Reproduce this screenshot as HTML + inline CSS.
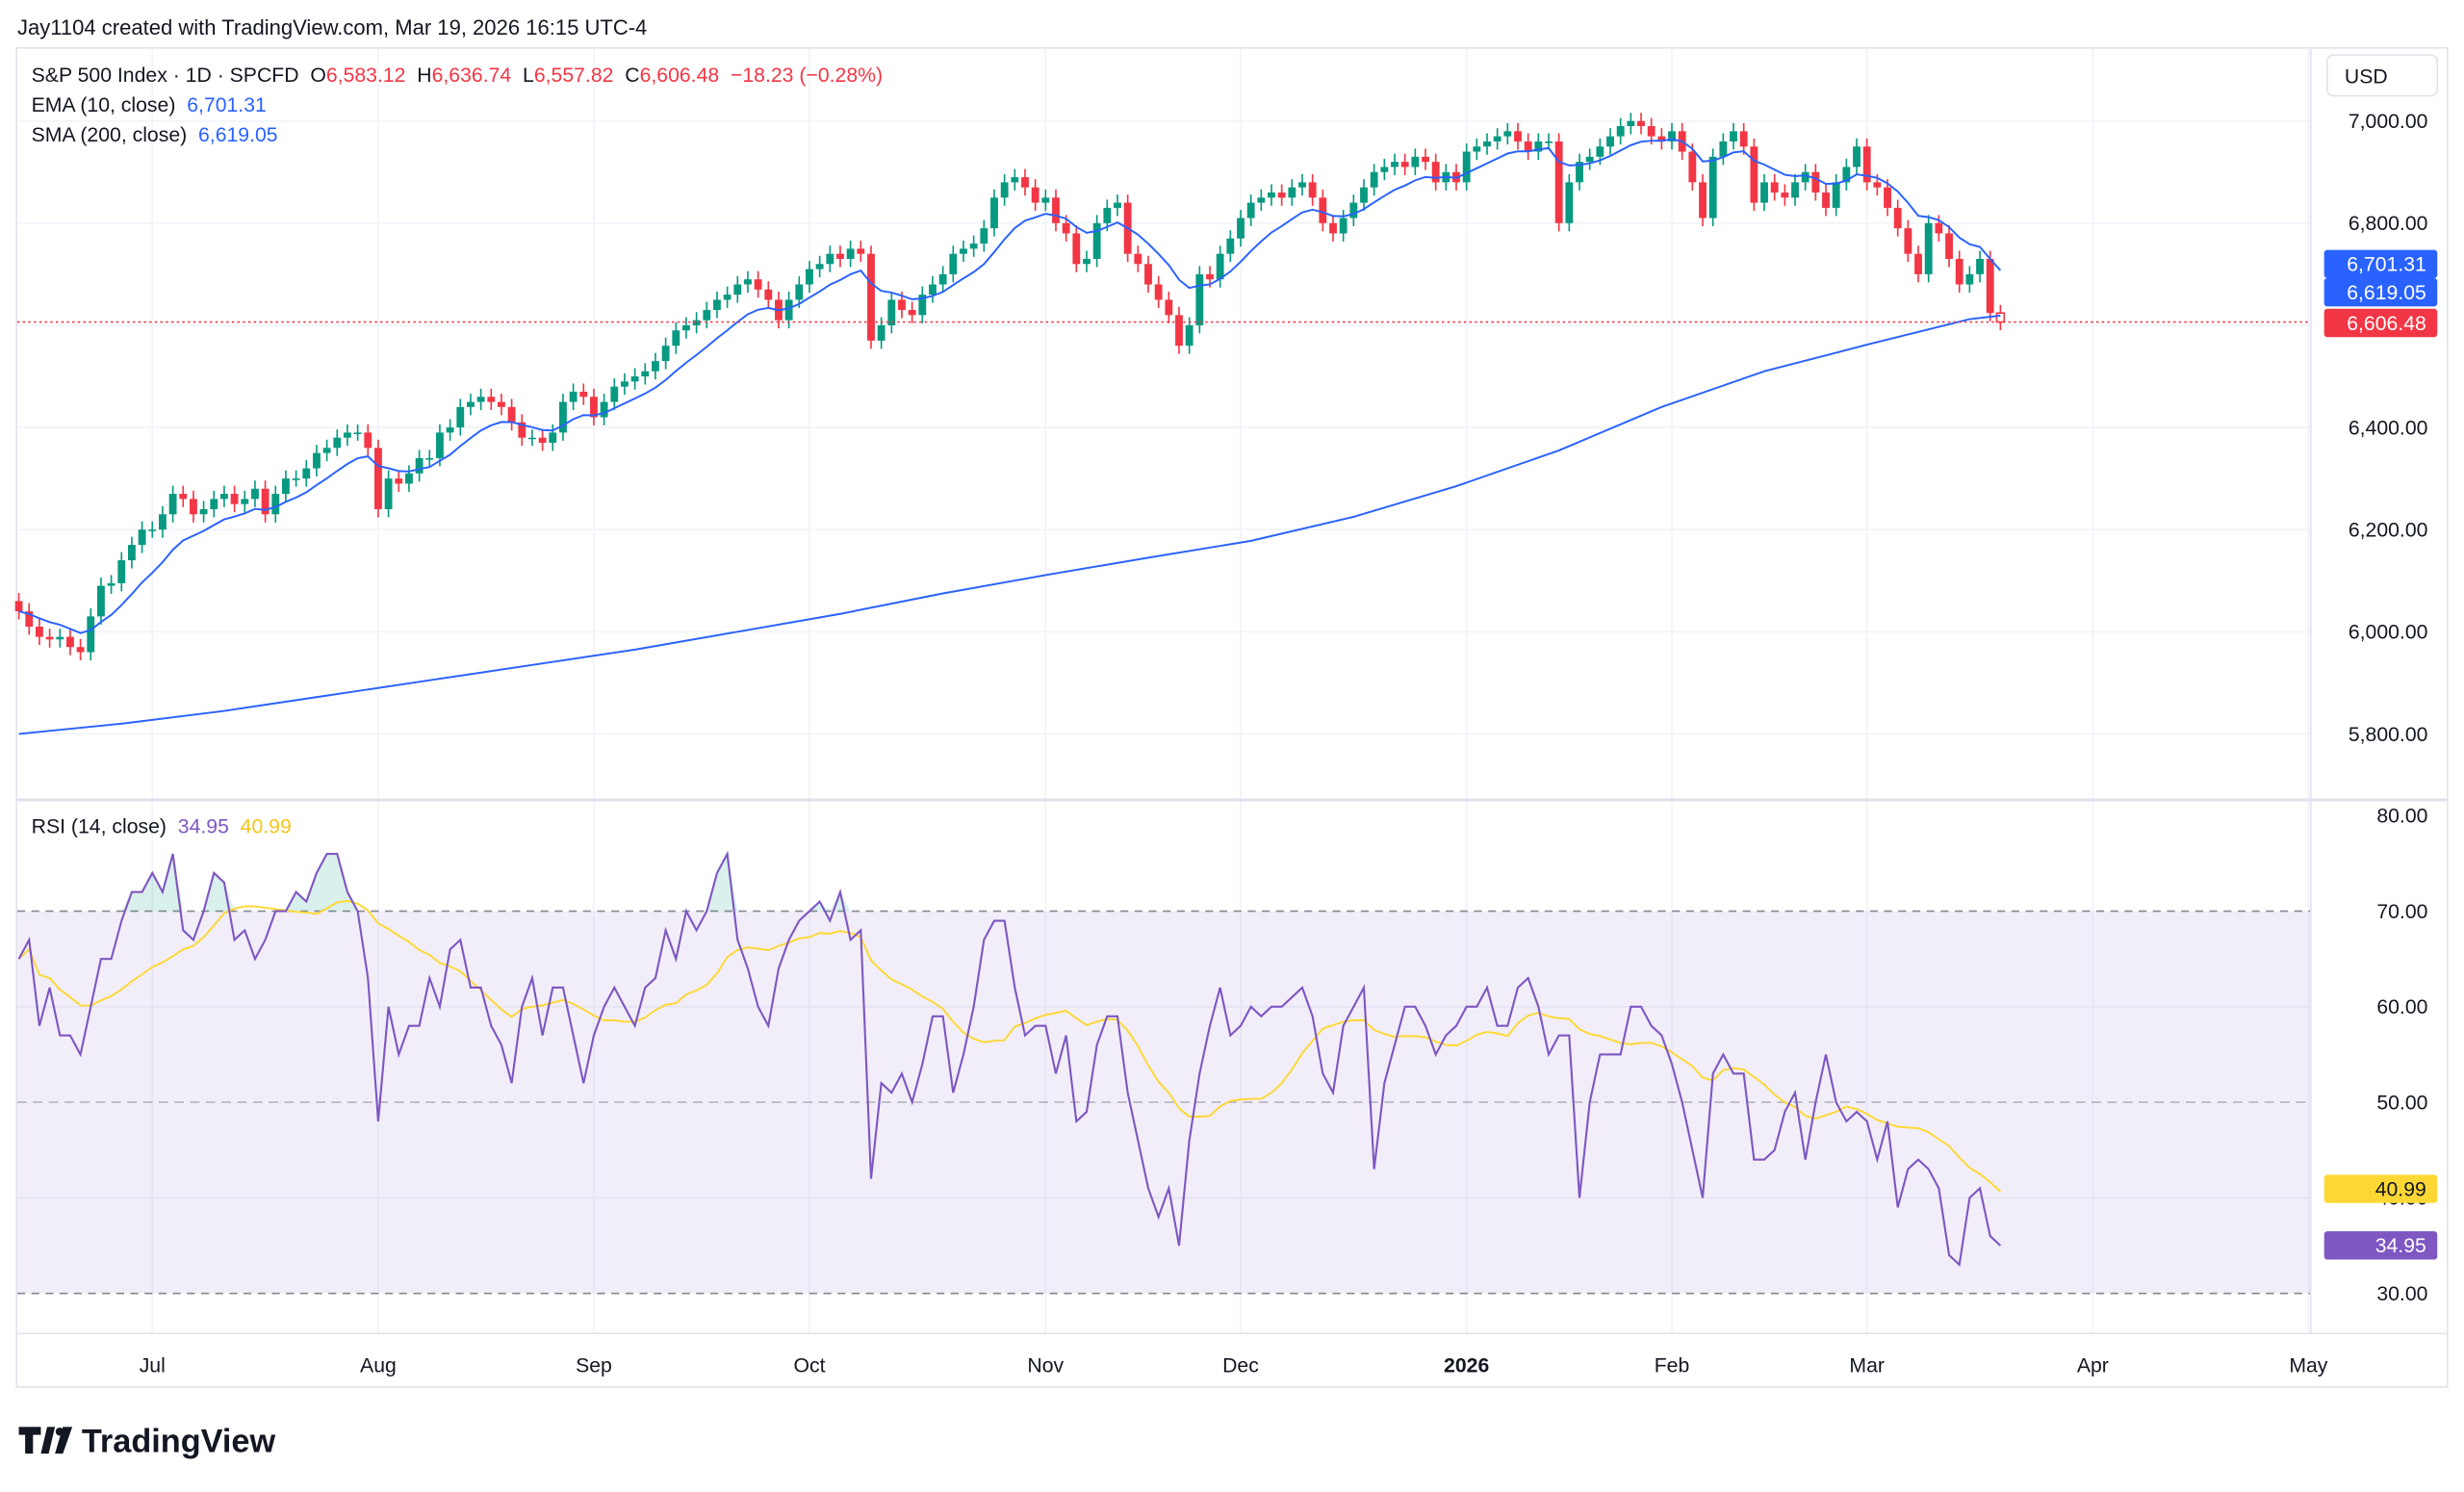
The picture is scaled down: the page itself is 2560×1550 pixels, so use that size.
<!DOCTYPE html>
<html><head><meta charset="utf-8">
<style>
html,body{margin:0;padding:0;background:#fff;width:2560px;height:1550px;overflow:hidden}
svg{display:block;font-family:"Liberation Sans",Arial,sans-serif}
</style></head>
<body>
<svg id="chart" width="2560" height="1550" viewBox="0 0 1568 949.4" preserveAspectRatio="none" xmlns="http://www.w3.org/2000/svg">
<rect x="0" y="0" width="1568" height="950" fill="#fff"/>
<text x="11" y="22" font-size="13.5" fill="#131722">Jay1104 created with TradingView.com, Mar 19, 2026 16:15 UTC-4</text>
<rect x="10.5" y="30.5" width="1547" height="852" fill="none" stroke="#e0e3eb"/>
<g id="grid"></g>
<g id="rsi-layer"></g>
<g id="price-layer"></g>
<g id="axes"></g>
<g font-size="13" fill="#131722">
<text x="20" y="52">S&amp;P 500 Index · 1D · SPCFD&#160;&#160;<tspan fill="#131722">O</tspan><tspan fill="#f23645">6,583.12</tspan>&#160;&#160;<tspan fill="#131722">H</tspan><tspan fill="#f23645">6,636.74</tspan>&#160;&#160;<tspan fill="#131722">L</tspan><tspan fill="#f23645">6,557.82</tspan>&#160;&#160;<tspan fill="#131722">C</tspan><tspan fill="#f23645">6,606.48</tspan>&#160;&#160;<tspan fill="#f23645">−18.23 (−0.28%)</tspan></text>
<text x="20" y="71">EMA (10, close)&#160;&#160;<tspan fill="#2962ff">6,701.31</tspan></text>
<text x="20" y="90">SMA (200, close)&#160;&#160;<tspan fill="#2962ff">6,619.05</tspan></text>
<text x="20" y="530">RSI (14, close)&#160;&#160;<tspan fill="#7e57c2">34.95</tspan>&#160;&#160;<tspan fill="#f5c518">40.99</tspan></text>
</g>
<rect x="1481" y="35" width="70" height="26" rx="4" fill="#fff" stroke="#e0e3eb"/>
<text x="1492" y="53" font-size="13" fill="#131722">USD</text>
<g>
<path d="M12 908h14v5h-5v12h-5v-12h-4z M30 908h5l-4 17h-5z" fill="#131722"/>
<circle cx="38" cy="911" r="2.6" fill="#131722"/>
<path d="M40 908h6l-6 17h-5z" fill="#131722"/>
<text x="52" y="924" font-size="21" font-weight="bold" fill="#131722">TradingView</text>
</g>
</svg>
<script>
const jun=[6040,6010,5990,5985,5990,5970,5960,6030,6090,6095,6140,6170,6200];
const jul=[6200,6230,6270,6260,6230,6240,6260,6270,6250,6260,6280,6230,6270,6300,6300,6320,6350,6360,6380,6390,6390,6360];
const aug=[6240,6300,6290,6310,6340,6340,6390,6400,6440,6450,6460,6450,6440,6410,6380,6380,6370,6390,6450,6470,6460];
const sep=[6420,6450,6480,6490,6500,6510,6530,6560,6590,6600,6610,6630,6650,6660,6680,6690,6670,6650,6610,6650,6680];
const oct=[6710,6720,6740,6730,6750,6740,6570,6600,6650,6630,6620,6660,6680,6700,6740,6750,6760,6790,6850,6880,6890,6870,6840];
const nov=[6850,6800,6780,6720,6730,6800,6830,6840,6740,6720,6680,6650,6620,6560,6600,6700,6690,6740,6770];
const dec=[6810,6840,6850,6860,6850,6870,6880,6850,6800,6780,6810,6840,6870,6900,6910,6920,6910,6930,6920,6880,6900,6880];
const jan=[6940,6950,6960,6970,6980,6960,6940,6960,6960,6800,6880,6920,6930,6950,6970,6990,7000,6990,6970,6960];
const feb=[6980,6940,6880,6810,6930,6960,6980,6950,6840,6880,6860,6850,6880,6900,6860,6830,6880,6910,6950];
const mar=[6880,6870,6830,6790,6740,6700,6800,6780,6730,6680,6700,6730,6624,6606.48];
const months=[jun,jul,aug,sep,oct,nov,dec,jan,feb,mar];
const monthLabels=["","Jul","Aug","Sep","Oct","Nov","Dec","2026","Feb","Mar"];
const futureLabels=["Apr","May"];
const futureGaps=[9,21];
const firstOpen=6060;
const smaIdx=[0,10,20,30,40,50,60,70,80,90,100,110,120,130,140,150,160,170,180,190,193];
const smaVal=[5800,5820,5845,5875,5905,5935,5965,6000,6035,6075,6111,6145,6178,6225,6285,6355,6440,6510,6562,6612,6619.05];
const rsi=[65,67,58,62,57,57,55,60,65,65,69,72,72,
74,72,76,68,67,70,74,73,67,68,65,67,70,70,72,71,74,76,76,72,70,63,
48,60,55,58,58,63,60,66,67,62,62,58,56,52,60,63,57,62,62,57,52,
57,60,62,60,58,62,63,68,65,70,68,70,74,76,67,64,60,58,64,67,69,
70,71,69,72,67,68,42,52,51,53,50,54,59,59,51,55,60,67,69,69,62,57,58,
58,53,57,48,49,56,59,59,51,46,41,38,41,35,46,53,58,62,57,
58,60,59,60,60,61,62,59,53,51,58,60,62,43,52,56,60,60,58,55,57,58,
60,60,62,58,58,62,63,60,55,57,57,40,50,55,55,55,60,60,58,57,
54,50,45,40,53,55,53,53,44,44,45,49,51,44,50,55,50,48,49,
48,44,48,39,43,44,43,41,34,33,40,41,36,35];
const priceTicks=[5800,6000,6200,6400,6600,6800,7000];
const rsiTicks=[30,40,50,60,70,80];

const NS="http://www.w3.org/2000/svg";
const closes=[].concat(...months);
const N=closes.length;
const X0=12,X1=1273;
const step=(X1-X0)/(N-1);
const xb=i=>X0+i*step;
const yp=p=>77+(7000-p)*0.325;
const yr=v=>519+(80-v)*6.08;
function mk(tag,attrs,parent){const e=document.createElementNS(NS,tag);for(const k in attrs)e.setAttribute(k,attrs[k]);parent.appendChild(e);return e;}
const grid=document.getElementById('grid'),P=document.getElementById('price-layer'),R=document.getElementById('rsi-layer'),A=document.getElementById('axes');

let idx=0,mTicks=[];
months.forEach((m,k)=>{if(k>0)mTicks.push([idx,monthLabels[k]]);idx+=m.length;});
let fi=N-1+futureGaps[0];mTicks.push([fi,futureLabels[0]]);fi+=futureGaps[1];mTicks.push([fi,futureLabels[1]]);
mTicks.forEach(([i,l])=>{
  const x=xb(i);
  const g=mk('line',{x1:x,x2:x,y1:31,y2:848,stroke:'#f0f3fa'},grid);
  
  
  const t=mk('text',{x:x,y:873,'font-size':13,'text-anchor':'middle',fill:'#131722','font-weight':l==='2026'?'bold':'normal'},A);
  t.textContent=l;
  
  
});
priceTicks.forEach(p=>{
  const y=yp(p);
  const g=mk('line',{x1:11,x2:1470,y1:y,y2:y,stroke:'#f0f3fa'},grid);
  
  
  const t=mk('text',{x:1545,y:y+4.5,'font-size':13,'text-anchor':'end',fill:'#131722'},A);
  t.textContent=p.toLocaleString('en-US',{minimumFractionDigits:2});
  
  
});
rsiTicks.forEach(v=>{
  const y=yr(v);
  if(v===40||v===60){const g=mk('line',{x1:11,x2:1470,y1:y,y2:y,stroke:'#f0f3fa'},grid);
  
  }
  const t=mk('text',{x:1545,y:y+4.5,'font-size':13,'text-anchor':'end',fill:'#131722'},A);
  t.textContent=v.toFixed(2);
  
  
});
let s=mk('line',{x1:11,x2:1557,y1:509,y2:509,stroke:'#e0e3eb','stroke-width':2},A);


s=mk('line',{x1:1470.5,x2:1470.5,y1:31,y2:848,stroke:'#e0e3eb'},A);


s=mk('line',{x1:11,x2:1557,y1:848.5,y2:848.5,stroke:'#e0e3eb'},A);



let b=mk('rect',{x:11,y:yr(70),width:1459,height:yr(30)-yr(70),fill:'rgba(126,87,194,0.1)'},R);


[70,50,30].forEach(v=>{const l=mk('line',{x1:11,x2:1470,y1:yr(v),y2:yr(v),stroke:'#787b86','stroke-dasharray':v===50?'6,4':'5,4','stroke-width':1,opacity:v===50?0.5:0.9},R);

});
let ob='';rsi.forEach((v,i)=>{ob+=(i?'L':'M')+xb(i)+','+yr(Math.max(v,70));});
ob+='L'+xb(N-1)+','+yr(70)+'L'+xb(0)+','+yr(70)+'Z';
let of=mk('path',{d:ob,fill:'rgba(8,153,129,0.15)'},R);


let ma=[];for(let i=0;i<N;i++){const a=rsi.slice(Math.max(0,i-13),i+1);ma.push(a.reduce((x,y)=>x+y,0)/a.length);}
let pl=mk('polyline',{points:ma.map((v,i)=>xb(i)+','+yr(v)).join(' '),fill:'none',stroke:'#fdd835','stroke-width':1.2},R);


pl=mk('polyline',{points:rsi.map((v,i)=>xb(i)+','+yr(v)).join(' '),fill:'none',stroke:'#7e57c2','stroke-width':1.3},R);



for(let i=0;i<N;i++){
  const o=i?closes[i-1]:firstOpen,c=closes[i];
  const up=c>=o,col=up?'#089981':'#f23645';
  const hi=Math.max(o,c)+16,lo=Math.min(o,c)-16;
  const g=mk('g',{},P);
  
  
  mk('line',{x1:xb(i),x2:xb(i),y1:yp(hi),y2:yp(lo),stroke:col,'stroke-width':1},g);
  const top=yp(Math.max(o,c)),h=Math.max(1,yp(Math.min(o,c))-top);
  mk('rect',{x:xb(i)-2.4,y:top,width:4.8,height:h,fill:i===N-1?'#fff':col,stroke:col,'stroke-width':i===N-1?1:0},g);
}
let ema=[],k=2/11;closes.forEach((c,i)=>ema.push(i?c*k+ema[i-1]*(1-k):c));
pl=mk('polyline',{points:ema.map((v,i)=>xb(i)+','+yp(v)).join(' '),fill:'none',stroke:'#2962ff','stroke-width':1.2},P);


pl=mk('polyline',{points:smaIdx.map((j,n)=>xb(j)+','+yp(smaVal[n])).join(' '),fill:'none',stroke:'#2962ff','stroke-width':1.2},P);


const lc=closes[N-1];
pl=mk('line',{x1:11,x2:1470,y1:yp(lc),y2:yp(lc),stroke:'#f23645','stroke-dasharray':'1.5,2','stroke-width':1},P);


function tag(y,txt,bg,fg,name){const g=mk('g',{},A);


mk('rect',{x:1479,y:y-9,width:72,height:18,rx:2,fill:bg},g);
const t=mk('text',{x:1544,y:y+4.5,'font-size':13,'text-anchor':'end',fill:fg},g);t.textContent=txt;}
tag(168,'6,701.31','#2962ff','#fff','ema-price-tag');
tag(186,'6,619.05','#2962ff','#fff','sma-price-tag');
tag(205.5,lc.toLocaleString('en-US',{minimumFractionDigits:2}),'#f23645','#fff','last-price-tag');
tag(756.5,'40.99','#fdd835','#131722','rsi-ma-tag');
tag(792.5,'34.95','#7e57c2','#fff','rsi-tag');
</script>
</body></html>
